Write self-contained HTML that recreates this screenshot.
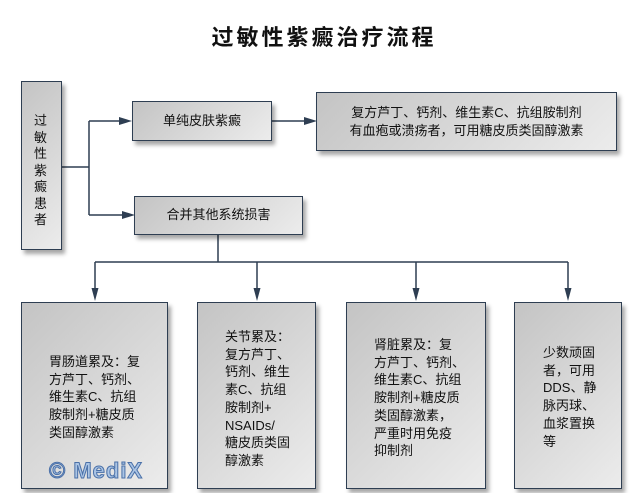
<!DOCTYPE html>
<html><head><meta charset="utf-8"><style>
body{margin:0;width:642px;height:493px;background:#fff;position:relative;overflow:hidden;font-family:"Liberation Sans","Noto Sans CJK SC",sans-serif;color:#111}
.b{position:absolute;box-sizing:border-box;border:1.5px solid #2e3e52;background:linear-gradient(135deg,#c4c4c4 0%,#d8d8d8 50%,#ececec 100%);box-shadow:3px 4px 4px rgba(0,0,0,.35)}
.t{position:absolute;font-size:13px;line-height:17.7px;white-space:nowrap}
.title{position:absolute;left:0;width:642px;top:20px;text-align:center;font-size:22px;font-weight:bold;font-family:"Liberation Sans","Noto Sans CJK SC",sans-serif;letter-spacing:3px;padding-left:3px}
svg{position:absolute;left:0;top:0}
</style></head><body>
<div class="title">过敏性紫癜治疗流程</div>
<svg width="642" height="493">
<g stroke="#2e3e52" stroke-width="1.5" fill="none">
<path d="M62 167H89M89 121V215M89 121H120M89 215H123M272 121H305M218 235V262M95 262H568M95 262V290M257 262V290M416 262V290M568 262V290"/>
</g>
<g fill="#2e3e52">
<path d="M132 121l-13-4v8z"/><path d="M135 215l-13-4v8z"/><path d="M317 121l-13-4v8z"/>
<path d="M95 301l-3.5-13h7z"/><path d="M257 301l-3.5-13h7z"/><path d="M416 301l-3.5-13h7z"/><path d="M568 301l-3.5-13h7z"/>
</g>
</svg>
<div class="b" style="left:21px;top:81px;width:41px;height:169px"></div>
<div class="t" style="left:34px;top:113px;line-height:16.5px;font-size:13px">过<br>敏<br>性<br>紫<br>癜<br>患<br>者</div>
<div class="b" style="left:132px;top:101px;width:140px;height:40px"></div>
<div class="t" style="left:132px;width:140px;text-align:center;top:112px">单纯皮肤紫癜</div>
<div class="b" style="left:316px;top:92px;width:301px;height:59px"></div>
<div class="t" style="left:316px;width:301px;text-align:center;top:104px">复方芦丁、钙剂、维生素C、抗组胺制剂<br>有血疱或溃疡者，可用糖皮质类固醇激素</div>
<div class="b" style="left:134px;top:196px;width:169px;height:39px"></div>
<div class="t" style="left:134px;width:169px;text-align:center;top:206px">合并其他系统损害</div>
<div class="b" style="left:21px;top:302px;width:147px;height:187px"></div>
<div class="t" style="left:49px;top:353px">胃肠道累及：复<br>方芦丁、钙剂、<br>维生素C、抗组<br>胺制剂+糖皮质<br>类固醇激素</div>
<div style="position:absolute;left:49px;top:458px;font-size:22px;font-weight:bold;color:#aac4e4;-webkit-text-stroke:1px #4a70a8;letter-spacing:1px;font-family:'Liberation Sans',sans-serif">© MediX</div>
<div class="b" style="left:197px;top:302px;width:119px;height:187px"></div>
<div class="t" style="left:225px;top:328px">关节累及：<br>复方芦丁、<br>钙剂、维生<br>素C、抗组<br>胺制剂+<br>NSAIDs/<br>糖皮质类固<br>醇激素</div>
<div class="b" style="left:346px;top:302px;width:140px;height:187px"></div>
<div class="t" style="left:374px;top:336px">肾脏累及：复<br>方芦丁、钙剂、<br>维生素C、抗组<br>胺制剂+糖皮质<br>类固醇激素，<br>严重时用免疫<br>抑制剂</div>
<div class="b" style="left:514px;top:302px;width:108px;height:187px"></div>
<div class="t" style="left:543px;top:344px">少数顽固<br>者，可用<br>DDS、静<br>脉丙球、<br>血浆置换<br>等</div>
</body></html>
